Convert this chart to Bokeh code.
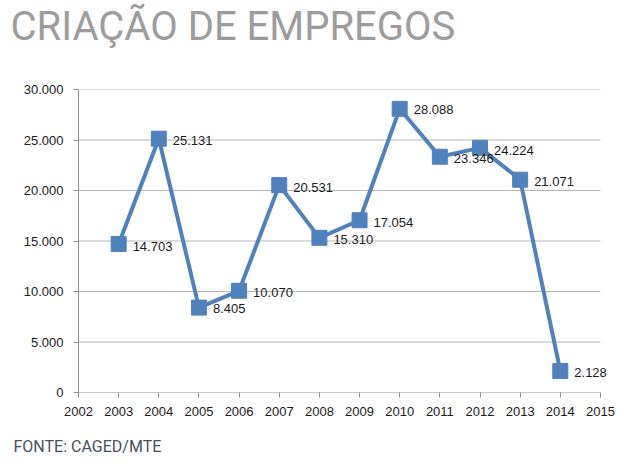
from bokeh.plotting import figure
from bokeh.models import Range1d, FixedTicker, Title, LabelSet, ColumnDataSource
from bokeh.core.properties import value
from bokeh.embed import file_html
from bokeh.resources import INLINE

years = [2003, 2004, 2005, 2006, 2007, 2008, 2009, 2010, 2011, 2012, 2013, 2014]
jobs = [14703, 25131, 8405, 10070, 20531, 15310, 17054, 28088, 23346, 24224, 21071, 2128]
x_ticks = list(range(2002, 2016))
y_ticks = [0, 5000, 10000, 15000, 20000, 25000, 30000]
y_tick_labels = ["0", "5.000", "10.000", "15.000", "20.000", "25.000", "30.000"]
title_text = "CRIAÇÃO DE EMPREGOS"
source_text = "FONTE: CAGED/MTE"

labels = [f"{v:,}".replace(",", ".") for v in jobs]
label_down_px = [3, 2, 1, 2, 2, 2, 2, 1, 2, 3, 2, 1]

src = ColumnDataSource(dict(x=years, y=jobs, lab=labels, dy=[-d for d in label_down_px]))

x_lo, x_hi = x_ticks[0], x_ticks[-1]
p = figure(width=631, height=463, output_backend="svg", toolbar_location=None,
           x_range=Range1d(x_lo, x_hi + 0.3), y_range=Range1d(0, 30000),
           min_border_left=78, min_border_right=19, min_border_top=89, min_border_bottom=71)
p.outline_line_color = None
p.background_fill_color = "white"
p.border_fill_color = "white"

p.xgrid.grid_line_color = None
p.ygrid.grid_line_color = None
# horizontal gridlines and x axis line, ending at the last year tick
p.segment(x0=[x_lo] * len(y_ticks[1:]), x1=[x_hi] * len(y_ticks[1:]),
          y0=y_ticks[1:], y1=y_ticks[1:], line_color="#b5b5b5", line_width=1)
p.segment(x0=[x_lo], x1=[x_hi], y0=[y_ticks[0]], y1=[y_ticks[0]],
          line_color="#8f8f8f", line_width=1)

p.yaxis.ticker = FixedTicker(ticks=y_ticks)
p.xaxis.ticker = FixedTicker(ticks=x_ticks)
p.yaxis.major_label_overrides = {t: l for t, l in zip(y_ticks, y_tick_labels)}
p.xaxis.major_label_overrides = {t: str(t) for t in x_ticks}

for ax in (p.xaxis, p.yaxis):
    ax.axis_line_color = "#8f8f8f"
    ax.axis_line_width = 1
    ax.major_tick_line_color = "#8f8f8f"
    ax.major_tick_out = 5
    ax.major_tick_in = 0
    ax.minor_tick_line_color = None
    ax.major_label_text_font = "Liberation Sans"
    ax.major_label_text_font_size = "13px"
    ax.major_label_text_color = "#1a1a1a"
p.xaxis.axis_line_color = None
p.yaxis.major_label_standoff = 10
p.xaxis.major_label_standoff = 9

p.line("x", "y", source=src, line_color="#4f81bd", line_width=4)
p.scatter("x", "y", source=src, marker="square", size=15, fill_color="#4f81bd", line_color="#4f81bd")
p.add_layout(LabelSet(x="x", y="y", text="lab", source=src, x_offset=14, y_offset="dy",
                      text_font=value("Liberation Sans"), text_font_size=value("13px"),
                      text_color="#1a1a1a", text_baseline="middle", text_align="left"))

# above: spacer next to the frame, then the big title
p.add_layout(Title(text=" ", text_font_size="13px", standoff=23), "above")
p.add_layout(Title(text=title_text, align="left", offset=-68, standoff=0,
                   text_font="Roboto", text_font_size="40px",
                   text_font_style="normal", text_color="#9c9c9c"), "above")
# below: spacer under the axis, then the source line
p.add_layout(Title(text=" ", text_font_size="4px", standoff=4), "below")
p.add_layout(Title(text=source_text, align="left", offset=-65, standoff=10,
                   text_font="Roboto", text_font_size="16px",
                   text_font_style="normal", text_color="#4a4f5c"), "below")

open("out.html", "w").write(file_html(p, INLINE))
